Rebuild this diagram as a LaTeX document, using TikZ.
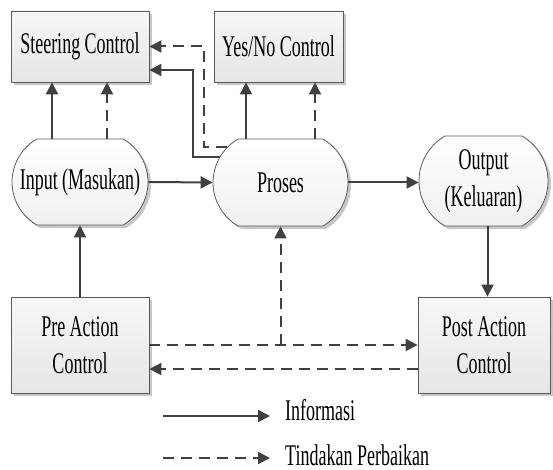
\documentclass[tikz,border=0pt]{standalone}
\usepackage{fontspec}
\setmainfont[FakeStretch=0.6]{Liberation Serif}
\usetikzlibrary{arrows.meta,shapes.misc,shadows}
\definecolor{garis}{HTML}{404040}
\definecolor{tepi}{HTML}{5A5A5A}
\tikzset{
  teks/.style={font=\fontsize{30}{37}\selectfont, text=black},
  blok/.style={teks, draw=tepi, line width=0.8pt, top color=black!3, bottom color=black!10,
    drop shadow={shadow xshift=3pt, shadow yshift=-3pt, fill=black!22, opacity=1},
    align=center, inner sep=0pt},
  bulat/.style={blok, rounded rectangle, rounded rectangle arc length=120,
    top color=white, bottom color=black!6},
  info/.style={draw=garis, line width=2pt, -{Triangle[length=12pt,width=12pt]}},
  tindak/.style={info, dash pattern=on 11pt off 7pt},
  ket/.style={teks, anchor=base west, inner sep=0pt},
}
\begin{document}
\begin{tikzpicture}[x=1pt,y=-1pt]
\useasboundingbox (0,0) rectangle (553,470);
% kotak kontrol
\node[blok, minimum width=138pt, minimum height=71pt] (steer) at (80,46.5) {Steering Control};
\node[blok, minimum width=129pt, minimum height=71pt] (yesno) at (278.5,46.5) {Yes/No Control};
% proses utama
\node[bulat, minimum width=136pt, minimum height=86pt] (input) at (80,182) {Input (Masukan)};
\node[bulat, minimum width=135pt, minimum height=87pt] (proses) at (280.5,182.5) {Proses};
\node[bulat, minimum width=129pt, minimum height=90pt] (output) at (483.5,181) {Output\\(Keluaran)};
\node[blok, minimum width=138pt, minimum height=96pt] (pre) at (80,345) {Pre Action\\Control};
\node[blok, minimum width=132pt, minimum height=96pt] (post) at (484,345) {Post Action\\Control};
% ke atas
\draw[info] ([xshift=-28pt]input.north) -- ([xshift=-28pt]steer.south);
\draw[tindak] ([xshift=27pt]input.north) -- ([xshift=27pt]steer.south);
\draw[info] ([xshift=-34.5pt]proses.north) -- ([xshift=-34.5pt]proses.north |- yesno.south);
\draw[tindak] ([xshift=34.5pt]proses.north) -- ([xshift=34.5pt]proses.north |- yesno.south);
\coordinate (belokA) at (193,70);
\coordinate (belokB) at (204,46.5);
\draw[info] (proses.157) -| (belokA) -- (steer.east |- belokA);
\draw[tindak] (proses.146) -| (belokB) -- (steer.east);
% alur
\draw[info] (input.east) -- (proses.west);
\draw[info] (proses.east) -- (output.west |- proses.east);
\draw[info] ([xshift=4pt]output.south) -- ([xshift=4pt]output.south |- post.north);
\draw[info] (pre.north) -- (pre.north |- input.south);
\draw[tindak] (pre.east) -- (post.west);
\draw[tindak] ([yshift=-24pt]post.west) -- ([yshift=-24pt]pre.east);
\draw[tindak] (proses.south |- pre.east) -- (proses.south);
% keterangan
\node[ket] (inf) at (285,420) {Informasi};
\node[ket] (tdk) at (285,465) {Tindakan Perbaikan};
\coordinate (infA) at (163,416);
\coordinate (infB) at (270,416);
\coordinate (tdkA) at (163,458);
\coordinate (tdkB) at (270,458);
\draw[info] (infA) -- (infB);
\draw[tindak] (tdkA) -- (tdkB);
\end{tikzpicture}
\end{document}
